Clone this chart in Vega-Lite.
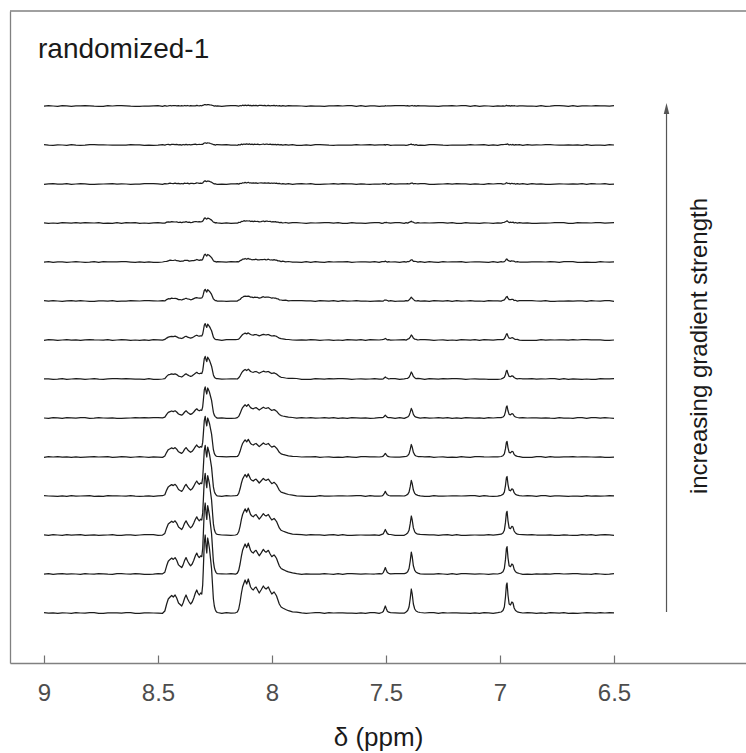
{
  "$schema": "https://vega.github.io/schema/vega-lite/v6.json",
  "width": 736,
  "height": 652,
  "autosize": {"type": "none"},
  "padding": {"left": 10, "top": 11, "right": 0, "bottom": 90},
  "background": "white",
  "config": {"view": {"stroke": null}, "font": "Liberation Sans"},
  "layer": [
    {
      "data": {"values": [{}]},
      "mark": {"type": "rule", "color": "#808080", "strokeWidth": 1.3},
      "encoding": {"y": {"datum": 652, "type": "quantitative", "scale": {"domain": [0, 652], "nice": false, "zero": false}}}
    },
    {
      "data": {
        "values": "p,t0,t1,t2,t3,t4,t5,t6,t7,t8,t9,t10,t11,t12,t13\n9.00,0.3,-0.2,0.1,0.4,-0.3,0,0.2,-0.4,0.3,-0.1,0.2,-0.3,0.4,-0.2\n8.98,-0.2,0.4,-0.3,0,0.3,-0.4,0.1,0.3,-0.2,0.4,-0.3,0.1,-0.1,0.3\n8.96,0.1,-0.4,0.3,-0.2,0,0.4,-0.3,0.1,0.4,-0.3,0,0.4,-0.3,0\n8.94,-0.4,0.1,0,-0.3,0.4,0.2,-0.1,-0.3,0,0.2,-0.4,-0.2,0.2,-0.4\n8.92,0.2,0.3,-0.4,0.2,-0.1,-0.3,0.4,0,-0.4,0.1,0.3,-0.1,0,0.4\n8.90,0,-0.1,0.4,-0.4,0.2,0.3,-0.4,0.4,0.1,-0.4,0.1,0.3,-0.4,0.1\n8.88,-0.3,0.2,-0.1,0.3,-0.4,0.1,0,-0.2,0.3,0,-0.2,-0.4,0.3,-0.3\n8.86,0.4,0,0.2,-0.1,0.1,-0.2,0.3,0.2,-0.1,0.3,0.4,0,-0.2,0.2\n8.84,0,-0.3,0.4,0,-0.3,0.4,0.1,-0.3,0.4,0,-0.2,0.3,-0.4,0.1\n8.82,-0.2,0.4,-0.3,0.2,-0.1,0.3,-0.4,0.2,0,-0.3,0.4,0.1,-0.2,0.3\n8.80,0.4,0,-0.1,0.3,0.1,-0.4,0,0.4,-0.3,-0.1,0.2,-0.4,0.3,0.2\n8.78,0.3,-0.1,0.1,-0.3,0.4,-0.2,0.3,0.1,-0.4,0.3,0,-0.3,0.4,-0.2\n8.76,-0.3,0.3,-0.4,-0.2,0,0.3,-0.2,0,0.1,-0.4,0.3,-0.1,0.2,-0.3\n8.74,-0.4,0.2,-0.2,-0.4,0.2,0,-0.3,-0.1,0.2,0.4,-0.3,0,0.1,-0.4\n8.72,0.2,-0.2,0,0.4,0.3,-0.1,0.2,0.3,-0.2,0.1,-0.1,0.2,0,0.4\n8.70,0.1,-0.4,0.3,0.1,-0.4,0.1,0.4,-0.4,0.3,0.2,-0.4,0.4,-0.1,0\n8.68,0.2,0.3,-0.4,0.2,-0.1,-0.3,0.4,0,-0.4,0.1,0.3,-0.1,0,0.4\n8.66,-0.2,0.4,-0.3,0,0.3,-0.4,0.1,0.3,-0.2,0.4,-0.3,0.1,-0.1,0.3\n8.64,0.4,0,0.2,-0.1,0.1,-0.2,0.3,0.2,-0.1,0.3,0.4,0,-0.2,0.2\n8.62,0.3,-0.2,0.1,0.4,-0.3,0,0.2,-0.4,0.3,-0.1,0.2,-0.3,0.4,-0.2\n8.60,-0.3,0.3,-0.4,-0.2,0,0.3,-0.2,0,0.1,-0.4,0.3,-0.1,0.2,-0.3\n8.58,-0.4,0.1,0,-0.3,0.4,0.2,-0.1,-0.3,0,0.2,-0.4,-0.2,0.2,-0.4\n8.56,0.1,-0.4,0.3,-0.2,0,0.4,-0.3,0.1,0.4,-0.3,0,0.4,-0.3,0\n8.54,0.1,-0.4,0.3,0.1,-0.4,0.1,0.4,-0.4,0.3,0.2,-0.4,0.4,-0.1,0\n8.52,0,-0.1,0.4,-0.4,0.2,0.3,-0.4,0.4,0.1,-0.4,0.1,0.3,-0.4,0.1\n8.50,-0.2,0.4,-0.3,0.2,-0.1,0.3,-0.4,0.2,0,-0.3,0.4,0.1,-0.2,0.3\n8.48,-0.3,0.2,-0.1,0.3,-0.4,0.1,0,-0.2,0.3,0,-0.2,-0.4,0.3,-0.3\n8.470,2,1.8,1.6,1.3,1,0.8,0.3,0.6,0.1,0.5,-0.2,0.3,-0.2,0.3\n8.462,9,8.2,7.1,5.9,4.7,3.6,2.6,1.9,1.4,0.6,0.9,0.1,0.5,-0.1\n8.455,14,12.7,11.1,9.1,7.3,5.6,4.1,2.9,2.3,1.2,1.1,0.3,0.7,0.1\n8.447,16,14.6,12.6,10.4,8.3,6.4,4.6,3.4,2.2,1.8,0.8,0.9,0.2,0.5\n8.440,17.5,15.9,13.8,11.4,9.1,7,5.1,3.7,2.8,1.6,1.3,0.5,0.7,0.1\n8.433,16,14.6,12.6,10.4,8.3,6.4,4.6,3.4,2.5,1.5,1.2,0.4,0.6,0.5\n8.425,18,16.4,14.2,11.7,9.4,7.2,5.2,3.8,2.6,2,1,0.9,0.3,0.5\n8.418,15,13.7,11.9,9.8,7.8,6,4.4,3.2,2.4,1.3,1.2,0.4,0.6,0.1\n8.410,10,9.1,7.9,6.5,5.2,4,2.9,2.1,1.4,1.2,0.5,0.6,0.1,0.4\n8.403,8.5,7.7,6.7,5.5,4.4,3.4,2.5,1.8,1.5,0.7,0.8,0.1,0.4,0\n8.396,7,6.4,5.5,4.6,3.6,2.8,2,1.5,1,0.9,0.3,0.5,-0.1,0.3\n8.390,10,9.1,7.9,6.5,5.2,4,2.9,2.1,1.6,0.8,0.9,0.2,0.5,0\n8.383,15,13.7,11.9,9.8,7.8,6,4.4,3.2,2.2,1.7,0.8,0.8,0.2,0.5\n8.377,18,16.4,14.2,11.7,9.4,7.2,5.2,3.8,2.8,1.6,1.4,0.5,0.7,0.1\n8.370,14,12.7,11.1,9.1,7.3,5.6,4.1,2.9,2,1.6,0.7,0.8,0.2,0.5\n8.363,11,10,8.7,7.2,5.7,4.4,3.2,2.3,1.8,0.9,0.9,0.2,0.5,0\n8.357,9,8.2,7.1,5.9,4.7,3.6,2.6,1.9,1.2,1.1,0.4,0.6,0.1,0.4\n8.350,11,10,8.7,7.2,5.7,4.4,3.2,2.3,1.6,1.3,0.6,0.6,0.4,0.1\n8.343,15,13.7,11.9,9.8,7.8,6,4.4,3.2,2.4,1.3,1.2,0.4,0.6,0.2\n8.336,20,18.2,15.8,13,10.4,8,5.8,4.2,3.1,1.8,1.5,0.6,0.8,0.2\n8.330,23,20.9,18.2,15,12,9.2,6.7,4.8,3.4,2.5,1.3,1.1,0.4,0.6\n8.325,20,18.2,15.8,13,10.4,8,5.8,4.2,3,2.1,1.2,1,0.5,0.4\n8.319,18,16.4,14.2,11.7,9.4,7.2,5.2,3.8,2.8,1.7,1.3,0.6,0.6,0.2\n8.313,20,18.2,15.8,13,10.4,8,5.8,4.2,2.9,2.2,1.2,0.9,0.5,0.5\n8.308,19,17.3,15,12.4,9.9,7.6,5.5,4,3,1.8,1.4,0.6,0.7,0.2\n8.304,28,25.5,22.1,18.2,14.6,11.2,8.1,5.9,4.3,2.7,1.9,1,0.7,0.6\n8.301,45,41,35.6,29.3,23.4,18,13.1,9.5,6.8,4.5,2.9,1.8,1.3,0.8\n8.297,70,63.7,55.3,45.5,36.4,28,20.3,14.7,10.5,7,4.6,2.8,2,1.3\n8.293,78,71,61.6,50.7,40.6,31.2,22.6,16.4,11.7,7.8,5.1,3.1,2.2,1.4\n8.289,66,60.1,52.1,42.9,34.3,26.4,19.1,13.9,9.9,6.6,4.3,2.6,1.8,1.2\n8.286,60,54.6,47.4,39,31.2,24,17.4,12.6,9,6,3.9,2.4,1.7,1.1\n8.282,75,68.3,59.3,48.8,39,30,21.8,15.8,11.3,7.5,4.9,3,2.1,1.4\n8.278,70,63.7,55.3,45.5,36.4,28,20.3,14.7,10.5,7,4.6,2.8,2,1.3\n8.274,64,58.2,50.6,41.6,33.3,25.6,18.6,13.4,9.6,6.4,4.2,2.6,1.8,1.2\n8.270,55,50,43.5,35.8,28.6,22,16,11.6,8.3,5.5,3.6,2.2,1.5,1\n8.265,44,40,34.8,28.6,22.9,17.6,12.8,9.2,6.6,4.4,2.9,1.8,1.2,0.8\n8.260,25,22.8,19.8,16.3,13,10,7.3,5.3,3.8,2.5,1.6,1,0.7,0.5\n8.257,14,12.7,11.1,9.1,7.3,5.6,4.1,2.9,2.1,1.4,0.9,0.6,0.4,0.3\n8.253,7,6.4,5.5,4.6,3.6,2.8,2,1.5,1.3,0.5,0.7,0,0.4,-0.1\n8.249,3.5,3.2,2.8,2.3,1.8,1.4,1,0.7,0.3,0.6,0,0.3,-0.2,0.3\n8.245,1.5,1.4,1.2,1,0.8,0.6,0.4,0.3,0.5,-0.1,0.4,-0.2,0.3,-0.1\n8.240,0.5,0.3,0.6,0.1,0.5,-0.1,0.3,0.4,-0.2,0.3,0.2,-0.3,0.3,0.1\n8.22,-0.4,0.1,0,-0.3,0.4,0.2,-0.1,-0.3,0,0.2,-0.4,-0.2,0.2,-0.4\n8.20,0.4,0,-0.1,0.3,0.1,-0.4,0,0.4,-0.3,-0.1,0.2,-0.4,0.3,0.2\n8.18,-0.2,0.4,-0.3,0,0.3,-0.4,0.1,0.3,-0.2,0.4,-0.3,0.1,-0.1,0.3\n8.16,0.2,-0.2,0,0.4,0.3,-0.1,0.2,0.3,-0.2,0.1,-0.1,0.2,0,0.4\n8.152,1,0.9,0.8,0.7,0.5,0.4,0,0.5,-0.1,0.4,-0.2,0.3,-0.3,0.2\n8.146,4,3.6,3.2,2.6,2.1,1.6,1.2,0.8,0.9,0.2,0.6,-0.1,0.4,-0.2\n8.140,11,10,8.7,7.2,5.7,4.4,3.2,2.3,1.5,1.3,0.5,0.6,0,0.5\n8.134,20,18.2,15.8,13,10.4,8,5.8,4.2,3.2,1.8,1.6,0.5,0.9,0.2\n8.129,26,23.7,20.5,16.9,13.5,10.4,7.5,5.5,3.7,2.9,1.5,1.2,0.4,0.8\n8.123,30,27.3,23.7,19.5,15.6,12,8.7,6.3,4.7,2.8,2.3,1,1,0.3\n8.118,33,30,26.1,21.5,17.2,13.2,9.6,6.9,4.8,3.5,1.9,1.6,0.6,0.9\n8.111,29,26.4,22.9,18.9,15.1,11.6,8.4,6.1,4.6,2.7,2.1,1,1.1,0.3\n8.104,34,30.9,26.9,22.1,17.7,13.6,9.9,7.1,4.9,3.6,2,1.7,0.7,0.9\n8.099,30,27.3,23.7,19.5,15.6,12,8.7,6.3,4.6,2.8,2.2,1,1.1,0.4\n8.094,26,23.7,20.5,16.9,13.5,10.4,7.5,5.5,3.8,2.8,1.5,1.2,0.5,0.7\n8.088,24,21.8,19,15.6,12.5,9.6,7,5,3.8,2.2,1.8,0.8,0.9,0.2\n8.082,23,20.9,18.2,15,12,9.2,6.7,4.8,3.3,2.5,1.3,1.1,0.4,0.6\n8.076,25,22.8,19.8,16.3,13,10,7.3,5.3,3.9,2.3,1.8,0.8,0.9,0.3\n8.070,26,23.7,20.5,16.9,13.5,10.4,7.5,5.5,3.7,2.8,1.5,1.2,0.5,0.7\n8.063,23,20.9,18.2,15,12,9.2,6.7,4.8,3.6,2.1,1.7,0.7,0.8,0.2\n8.056,20,18.2,15.8,13,10.4,8,5.8,4.2,2.8,2.2,1.1,1,0.4,0.6\n8.048,23,20.9,18.2,15,12,9.2,6.7,4.8,3.4,2.5,1.3,1.1,0.5,0.6\n8.038,27,24.6,21.3,17.6,14,10.8,7.8,5.7,4.3,2.5,2,0.9,1,0.3\n8.032,25,22.8,19.8,16.3,13,10,7.3,5.3,3.7,2.7,1.4,1.2,0.5,0.7\n8.026,24,21.8,19,15.6,12.5,9.6,7,5,3.8,2.2,1.8,0.8,0.9,0.2\n8.021,25,22.8,19.8,16.3,13,10,7.3,5.3,3.9,2.4,1.8,0.8,0.9,0.3\n8.016,26,23.7,20.5,16.9,13.5,10.4,7.5,5.5,3.8,2.8,1.5,1.2,0.5,0.7\n8.008,22,20,17.4,14.3,11.4,8.8,6.4,4.6,3.5,2,1.6,0.7,0.8,0.2\n8.001,19,17.3,15,12.4,9.9,7.6,5.5,4,2.8,2.1,1,1,0.3,0.5\n7.996,20,18.2,15.8,13,10.4,8,5.8,4.2,3.1,1.9,1.4,0.7,0.7,0.3\n7.991,21,19.1,16.6,13.7,10.9,8.4,6.1,4.4,3,2.3,1.2,1,0.4,0.6\n7.985,19,17.3,15,12.4,9.9,7.6,5.5,4,3,1.8,1.3,0.7,0.6,0.2\n7.980,17,15.5,13.4,11.1,8.8,6.8,4.9,3.6,2.4,1.9,0.9,0.9,0.2,0.5\n7.974,13,11.8,10.3,8.5,6.8,5.2,3.8,2.7,2.2,1.1,1,0.3,0.6,0\n7.968,9,8.2,7.1,5.9,4.7,3.6,2.6,1.9,1.2,1.1,0.4,0.6,0.1,0.4\n7.960,6,5.5,4.7,3.9,3.1,2.4,1.7,1.3,1,0.4,0.6,0,0.4,-0.2\n7.953,5,4.6,4,3.3,2.6,2,1.5,1.1,0.6,0.8,0,0.4,-0.2,0.3\n7.940,3.5,3.2,2.8,2.3,1.8,1.4,1,0.7,0.8,0.1,0.5,-0.1,0.4,-0.2\n7.928,2.3,2.1,1.8,1.5,1.2,0.9,0.7,0.5,0.1,0.5,-0.2,0.3,-0.2,0.4\n7.910,1.2,1.1,0.9,0.8,0.6,0.5,0.6,0,0.5,-0.2,0.4,-0.3,0.3,0.2\n7.892,0.9,0.3,0.7,0.1,0.5,-0.1,0.5,-0.1,0.4,-0.2,0.3,0.1,-0.3,0.2\n7.87,0.1,-0.4,0.3,-0.2,0,0.4,-0.3,0.1,0.4,-0.3,0,0.4,-0.3,0\n7.85,-0.4,0.2,-0.2,-0.4,0.2,0,-0.3,-0.1,0.2,0.4,-0.3,0,0.1,-0.4\n7.83,0,-0.1,0.4,-0.4,0.2,0.3,-0.4,0.4,0.1,-0.4,0.1,0.3,-0.4,0.1\n7.81,0.3,-0.1,0.1,-0.3,0.4,-0.2,0.3,0.1,-0.4,0.3,0,-0.3,0.4,-0.2\n7.79,0.3,-0.2,0.1,0.4,-0.3,0,0.2,-0.4,0.3,-0.1,0.2,-0.3,0.4,-0.2\n7.77,-0.3,0.3,-0.4,-0.2,0,0.3,-0.2,0,0.1,-0.4,0.3,-0.1,0.2,-0.3\n7.75,0.4,0,0.2,-0.1,0.1,-0.2,0.3,0.2,-0.1,0.3,0.4,0,-0.2,0.2\n7.73,0,-0.3,0.4,0,-0.3,0.4,0.1,-0.3,0.4,0,-0.2,0.3,-0.4,0.1\n7.71,0.2,0.3,-0.4,0.2,-0.1,-0.3,0.4,0,-0.4,0.1,0.3,-0.1,0,0.4\n7.69,0.1,-0.4,0.3,0.1,-0.4,0.1,0.4,-0.4,0.3,0.2,-0.4,0.4,-0.1,0\n7.67,-0.2,0.4,-0.3,0,0.3,-0.4,0.1,0.3,-0.2,0.4,-0.3,0.1,-0.1,0.3\n7.65,-0.2,0.4,-0.3,0.2,-0.1,0.3,-0.4,0.2,0,-0.3,0.4,0.1,-0.2,0.3\n7.63,-0.3,0.2,-0.1,0.3,-0.4,0.1,0,-0.2,0.3,0,-0.2,-0.4,0.3,-0.3\n7.61,0.2,-0.2,0,0.4,0.3,-0.1,0.2,0.3,-0.2,0.1,-0.1,0.2,0,0.4\n7.59,-0.4,0.1,0,-0.3,0.4,0.2,-0.1,-0.3,0,0.2,-0.4,-0.2,0.2,-0.4\n7.57,0.4,0,-0.1,0.3,0.1,-0.4,0,0.4,-0.3,-0.1,0.2,-0.4,0.3,0.2\n7.55,0.4,0,0.2,-0.1,0.1,-0.2,0.3,0.2,-0.1,0.3,0.4,0,-0.2,0.2\n7.53,-0.3,0.3,-0.4,-0.2,0,0.3,-0.2,0,0.1,-0.4,0.3,-0.1,0.2,-0.3\n7.518,0.5,0.1,0.7,0,0.4,0.3,-0.2,0.3,-0.1,0.4,-0.3,0.2,0.1,-0.2\n7.512,1.5,1.4,1.2,1,0.8,0.6,0.1,0.6,-0.1,0.5,-0.2,0.4,0.2,-0.2\n7.507,4.5,4.1,3.6,2.9,2.3,1.8,1.3,0.9,0.9,0.3,0.5,0,0.4,-0.1\n7.503,7,6.4,5.5,4.6,3.6,2.8,2,1.5,1,0.9,0.3,0.5,-0.1,0.3\n7.499,4.5,4.1,3.6,2.9,2.3,1.8,1.3,0.9,0.8,0.3,0.6,-0.1,0.4,0\n7.494,1.8,1.6,1.4,1.2,0.9,0.7,0.7,0.1,0.5,-0.1,0.4,-0.2,0.3,0.1\n7.488,0.8,0.7,0.6,0.5,0.4,0.3,0,0.4,-0.1,0.3,0.2,-0.3,0.2,0.1\n7.480,0.4,0.1,0.5,0.2,0,0.3,0.4,-0.2,0.3,0,-0.2,0.3,-0.3,0.2\n7.46,0.2,0.3,-0.4,0.2,-0.1,-0.3,0.4,0,-0.4,0.1,0.3,-0.1,0,0.4\n7.44,-0.2,0.4,-0.3,0.2,-0.1,0.3,-0.4,0.2,0,-0.3,0.4,0.1,-0.2,0.3\n7.42,-0.2,0.4,-0.3,0,0.3,-0.4,0.1,0.3,-0.2,0.4,-0.3,0.1,-0.1,0.3\n7.412,1,0.9,0.8,0.7,0.5,0.4,0.5,-0.1,0.4,-0.1,0.3,0.2,-0.3,0.2\n7.405,2.5,2.3,2,1.6,1.3,1,0.7,0.8,0.1,0.5,-0.1,0.4,-0.2,0.3\n7.399,6,5.5,4.7,3.9,3.1,2.4,1.7,1.3,1.1,0.4,0.6,0,0.4,-0.1\n7.394,14,12.7,11.1,9.1,7.3,5.6,4.1,2.9,2.3,1.2,1.1,0.4,0.6,0.1\n7.389,24,21.8,19,15.6,12.5,9.6,7,5,3.8,2.2,1.8,0.8,0.9,0.3\n7.385,19,17.3,15,12.4,9.9,7.6,5.5,4,2.7,2.1,1,1,0.3,0.5\n7.380,9,8.2,7.1,5.9,4.7,3.6,2.6,1.9,1.6,0.7,0.8,0.2,0.5,0\n7.374,4,3.6,3.2,2.6,2.1,1.6,1.2,0.8,0.4,0.7,0,0.5,-0.2,0.3\n7.368,2,1.8,1.6,1.3,1,0.8,0.3,0.7,0,0.5,-0.2,0.3,0.3,-0.2\n7.360,1,0.9,0.8,0.7,0.5,0.4,0.6,0,0.4,-0.2,0.3,0.1,-0.3,0.3\n7.350,0.5,0.2,0.6,0.1,0.5,-0.1,0.3,0.4,-0.2,0.3,0,0.3,-0.2,0.1\n7.33,0,-0.1,0.4,-0.4,0.2,0.3,-0.4,0.4,0.1,-0.4,0.1,0.3,-0.4,0.1\n7.31,0.3,-0.1,0.1,-0.3,0.4,-0.2,0.3,0.1,-0.4,0.3,0,-0.3,0.4,-0.2\n7.29,0.3,-0.2,0.1,0.4,-0.3,0,0.2,-0.4,0.3,-0.1,0.2,-0.3,0.4,-0.2\n7.27,-0.3,0.3,-0.4,-0.2,0,0.3,-0.2,0,0.1,-0.4,0.3,-0.1,0.2,-0.3\n7.25,0.4,0,0.2,-0.1,0.1,-0.2,0.3,0.2,-0.1,0.3,0.4,0,-0.2,0.2\n7.23,0,-0.3,0.4,0,-0.3,0.4,0.1,-0.3,0.4,0,-0.2,0.3,-0.4,0.1\n7.21,0.2,0.3,-0.4,0.2,-0.1,-0.3,0.4,0,-0.4,0.1,0.3,-0.1,0,0.4\n7.19,0.1,-0.4,0.3,0.1,-0.4,0.1,0.4,-0.4,0.3,0.2,-0.4,0.4,-0.1,0\n7.17,-0.2,0.4,-0.3,0,0.3,-0.4,0.1,0.3,-0.2,0.4,-0.3,0.1,-0.1,0.3\n7.15,-0.2,0.4,-0.3,0.2,-0.1,0.3,-0.4,0.2,0,-0.3,0.4,0.1,-0.2,0.3\n7.13,-0.3,0.2,-0.1,0.3,-0.4,0.1,0,-0.2,0.3,0,-0.2,-0.4,0.3,-0.3\n7.11,0.2,-0.2,0,0.4,0.3,-0.1,0.2,0.3,-0.2,0.1,-0.1,0.2,0,0.4\n7.09,-0.4,0.1,0,-0.3,0.4,0.2,-0.1,-0.3,0,0.2,-0.4,-0.2,0.2,-0.4\n7.07,0.4,0,-0.1,0.3,0.1,-0.4,0,0.4,-0.3,-0.1,0.2,-0.4,0.3,0.2\n7.05,0.1,-0.4,0.3,-0.2,0,0.4,-0.3,0.1,0.4,-0.3,0,0.4,-0.3,0\n7.03,-0.4,0.2,-0.2,-0.4,0.2,0,-0.3,-0.1,0.2,0.4,-0.3,0,0.1,-0.4\n7.01,0.3,0,0.4,-0.2,0.2,0.3,-0.3,0.4,0.1,-0.3,0.1,0.3,-0.3,0.1\n6.995,1,0.9,0.8,0.7,0.5,0.4,0,0.5,-0.1,0.4,-0.2,0.3,0.3,-0.2\n6.987,2.5,2.3,2,1.6,1.3,1,0.9,0.3,0.7,0,0.5,-0.2,0.4,0.1\n6.981,6,5.5,4.7,3.9,3.1,2.4,1.7,1.3,1.1,0.4,0.7,0,0.5,-0.1\n6.976,16,14.6,12.6,10.4,8.3,6.4,4.6,3.4,2.6,1.4,1.3,0.4,0.7,0\n6.972,28,25.5,22.1,18.2,14.6,11.2,8.1,5.9,4.1,3,1.7,1.3,0.6,0.7\n6.969,30,27.3,23.7,19.5,15.6,12,8.7,6.3,4.6,2.9,2.2,1,1.1,0.3\n6.965,18,16.4,14.2,11.7,9.4,7.2,5.2,3.8,2.9,1.6,1.4,0.5,0.8,0.1\n6.960,9,8.2,7.1,5.9,4.7,3.6,2.6,1.9,1.3,1.1,0.4,0.6,0,0.4\n6.954,8,7.3,6.3,5.2,4.2,3.2,2.3,1.7,1.3,0.6,0.8,0.1,0.5,-0.1\n6.948,11,10,8.7,7.2,5.7,4.4,3.2,2.3,1.6,1.3,0.5,0.7,0,0.4\n6.943,10,9.1,7.9,6.5,5.2,4,2.9,2.1,1.6,0.8,0.9,0.2,0.6,0\n6.938,5,4.6,4,3.3,2.6,2,1.5,1.1,0.5,0.8,0,0.5,-0.2,0.3\n6.932,2.5,2.3,2,1.6,1.3,1,0.7,0.5,0.7,0,0.5,-0.2,0.4,0\n6.924,1.2,1.1,0.9,0.8,0.6,0.5,0.1,0.6,-0.1,0.4,-0.2,0.3,0.2,-0.2\n6.915,0.6,0.5,0.5,0.4,0.3,0.2,0.5,-0.2,0.4,0,0.3,-0.2,0.3,0.1\n6.90,0,-0.3,0.4,0,-0.3,0.4,0.1,-0.3,0.4,0,-0.2,0.3,-0.4,0.1\n6.88,0.3,-0.2,0.1,0.4,-0.3,0,0.2,-0.4,0.3,-0.1,0.2,-0.3,0.4,-0.2\n6.86,0.1,-0.4,0.3,0.1,-0.4,0.1,0.4,-0.4,0.3,0.2,-0.4,0.4,-0.1,0\n6.84,-0.4,0.1,0,-0.3,0.4,0.2,-0.1,-0.3,0,0.2,-0.4,-0.2,0.2,-0.4\n6.82,0.2,-0.2,0,0.4,0.3,-0.1,0.2,0.3,-0.2,0.1,-0.1,0.2,0,0.4\n6.80,-0.3,0.2,-0.1,0.3,-0.4,0.1,0,-0.2,0.3,0,-0.2,-0.4,0.3,-0.3\n6.78,0.3,-0.1,0.1,-0.3,0.4,-0.2,0.3,0.1,-0.4,0.3,0,-0.3,0.4,-0.2\n6.76,0.2,0.3,-0.4,0.2,-0.1,-0.3,0.4,0,-0.4,0.1,0.3,-0.1,0,0.4\n6.74,-0.2,0.4,-0.3,0.2,-0.1,0.3,-0.4,0.2,0,-0.3,0.4,0.1,-0.2,0.3\n6.72,0.4,0,0.2,-0.1,0.1,-0.2,0.3,0.2,-0.1,0.3,0.4,0,-0.2,0.2\n6.70,-0.4,0.2,-0.2,-0.4,0.2,0,-0.3,-0.1,0.2,0.4,-0.3,0,0.1,-0.4\n6.68,-0.2,0.4,-0.3,0,0.3,-0.4,0.1,0.3,-0.2,0.4,-0.3,0.1,-0.1,0.3\n6.66,-0.3,0.3,-0.4,-0.2,0,0.3,-0.2,0,0.1,-0.4,0.3,-0.1,0.2,-0.3\n6.64,0,-0.1,0.4,-0.4,0.2,0.3,-0.4,0.4,0.1,-0.4,0.1,0.3,-0.4,0.1\n6.62,0.4,0,-0.1,0.3,0.1,-0.4,0,0.4,-0.3,-0.1,0.2,-0.4,0.3,0.2\n6.60,0.1,-0.4,0.3,-0.2,0,0.4,-0.3,0.1,0.4,-0.3,0,0.4,-0.3,0\n6.58,-0.2,0.4,-0.3,0.2,-0.1,0.3,-0.4,0.2,0,-0.3,0.4,0.1,-0.2,0.3\n6.56,0.4,0,0.2,-0.1,0.1,-0.2,0.3,0.2,-0.1,0.3,0.4,0,-0.2,0.2\n6.54,0,-0.3,0.4,0,-0.3,0.4,0.1,-0.3,0.4,0,-0.2,0.3,-0.4,0.1\n6.52,0.3,-0.2,0.1,0.4,-0.3,0,0.2,-0.4,0.3,-0.1,0.2,-0.3,0.4,-0.2\n6.50,0.2,0.3,-0.4,0.2,-0.1,-0.3,0.4,0,-0.4,0.1,0.3,-0.1,0,0.4",
        "format": {"type": "csv", "parse": {"p": "number", "t0": "number", "t1": "number", "t2": "number", "t3": "number", "t4": "number", "t5": "number", "t6": "number", "t7": "number", "t8": "number", "t9": "number", "t10": "number", "t11": "number", "t12": "number", "t13": "number"}}
      },
      "transform": [
        {"fold": ["t0", "t1", "t2", "t3", "t4", "t5", "t6", "t7", "t8", "t9", "t10", "t11", "t12", "t13"], "as": ["k", "v"]},
        {"calculate": "datum.v + 50 + 39 * toNumber(substring(datum.k, 1))", "as": "y"}
      ],
      "mark": {"type": "line", "color": "#1c1c1c", "strokeWidth": 1.25, "strokeJoin": "round"},
      "encoding": {
        "x": {
          "field": "p", "type": "quantitative",
          "scale": {"domain": [5.9211, 9.1491], "reverse": true, "nice": false, "zero": false},
          "axis": {
            "values": [9, 8.5, 8, 7.5, 7, 6.5], "format": "~g", "title": "δ (ppm)", "grid": false,
            "tickSize": -8, "tickColor": "#707070", "tickWidth": 1.2,
            "domainColor": "#808080", "domainWidth": 1.3,
            "labelFont": "Liberation Sans", "labelFontSize": 24, "labelColor": "#4d4d4d", "labelPadding": 26, "labelFlush": false,
            "titleFont": "Liberation Sans", "titleFontSize": 26, "titleFontWeight": "normal", "titleColor": "#1a1a1a", "titlePadding": 19
          }
        },
        "y": {
          "field": "y", "type": "quantitative",
          "scale": {"domain": [0, 652], "nice": false, "zero": false},
          "axis": {"domain": true, "domainColor": "#808080", "domainWidth": 1.3, "ticks": false, "labels": false, "title": null, "grid": false}
        },
        "detail": {"field": "k"}
      }
    },
    {
      "data": {"values": [{}]},
      "mark": {"type": "rule", "color": "#555555", "strokeWidth": 1.2},
      "encoding": {
        "x": {"datum": 6.2697, "type": "quantitative"},
        "y": {"datum": 51, "type": "quantitative"},
        "y2": {"datum": 550}
      }
    },
    {
      "data": {"values": [{}]},
      "mark": {"type": "point", "shape": "M0,-1L0.5,1L-0.5,1Z", "filled": true, "color": "#555555", "size": 121, "opacity": 1},
      "encoding": {
        "x": {"datum": 6.2697, "type": "quantitative"},
        "y": {"datum": 554.5, "type": "quantitative"}
      }
    },
    {
      "data": {"values": [{}]},
      "mark": {"type": "text", "text": "randomized-1", "font": "Liberation Sans", "fontSize": 28, "align": "left", "baseline": "alphabetic", "color": "#1a1a1a"},
      "encoding": {
        "x": {"datum": 9.0263, "type": "quantitative"},
        "y": {"datum": 605, "type": "quantitative"}
      }
    },
    {
      "data": {"values": [{}]},
      "mark": {"type": "text", "text": "increasing gradient strength", "font": "Liberation Sans", "fontSize": 24, "angle": 270, "align": "center", "baseline": "middle", "color": "#1a1a1a"},
      "encoding": {
        "x": {"datum": 6.1228, "type": "quantitative"},
        "y": {"datum": 317, "type": "quantitative"}
      }
    }
  ]
}
